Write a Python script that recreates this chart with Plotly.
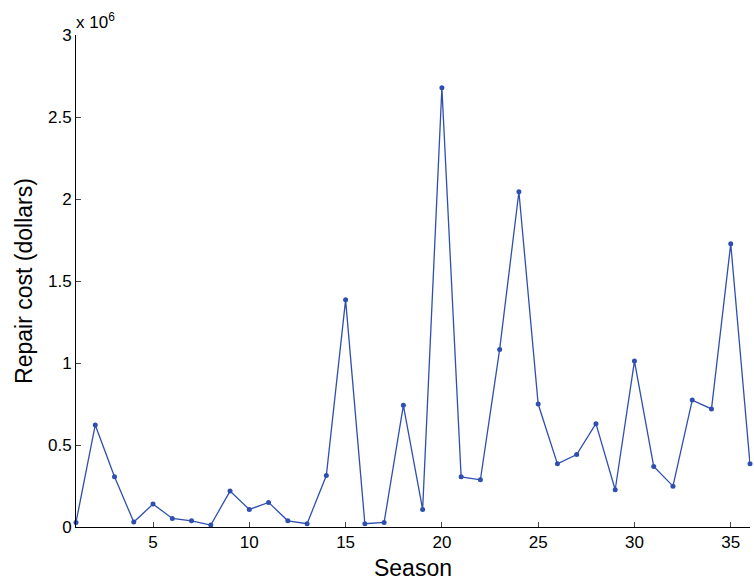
import plotly.graph_objects as go

season = list(range(1, 37))
repair_cost = [0.028, 0.622, 0.306, 0.030, 0.140, 0.052, 0.038, 0.012, 0.219, 0.107,
               0.150, 0.038, 0.020, 0.314, 1.385, 0.020, 0.028, 0.742, 0.107, 2.678,
               0.306, 0.288, 1.083, 2.044, 0.750, 0.385, 0.442, 0.630, 0.227, 1.012,
               0.369, 0.249, 0.774, 0.720, 1.727, 0.385]
repair_cost = [v * 1e6 for v in repair_cost]
x_ticks = [5, 10, 15, 20, 25, 30, 35]
y_ticks = [0, 0.5e6, 1e6, 1.5e6, 2e6, 2.5e6, 3e6]
y_tick_labels = ["0", "0.5", "1", "1.5", "2", "2.5", "3"]

fig = go.Figure(go.Scatter(
    x=season, y=repair_cost, mode="lines+markers",
    line=dict(color="#2f4fb0", width=1.3),
    marker=dict(color="#2f4fb0", size=5),
    cliponaxis=False,
))

font = "Liberation Sans, Arial, sans-serif"
fig.update_layout(
    width=754, height=587,
    margin=dict(l=76, r=4, t=35, b=60),
    paper_bgcolor="white", plot_bgcolor="white",
    showlegend=False,
    font=dict(family=font, color="black", size=17),
    xaxis=dict(range=[1, 36], tickvals=x_ticks, ticks="inside", ticklen=5,
               showline=True, linecolor="black", linewidth=1, showgrid=False,
               zeroline=False, title=dict(text="Season", font=dict(size=23), standoff=8),
               tickfont=dict(size=17)),
    yaxis=dict(range=[0, 3e6], tickvals=y_ticks, ticktext=y_tick_labels,
               ticks="inside", ticklen=5,
               showline=True, linecolor="black", linewidth=1, showgrid=False,
               zeroline=False, title=dict(text="Repair cost (dollars)", font=dict(size=23), standoff=8),
               tickfont=dict(size=17)),
    annotations=[dict(text="x 10<sup>6</sup>", x=0, y=1, xref="paper", yref="paper",
                      xanchor="left", yanchor="bottom", showarrow=False, xshift=-2, yshift=1,
                      font=dict(size=17))],
)

fig.write_html("out.html", config={"displayModeBar": False},
               post_script="document.body.style.margin='0';document.body.style.overflow='hidden';")
